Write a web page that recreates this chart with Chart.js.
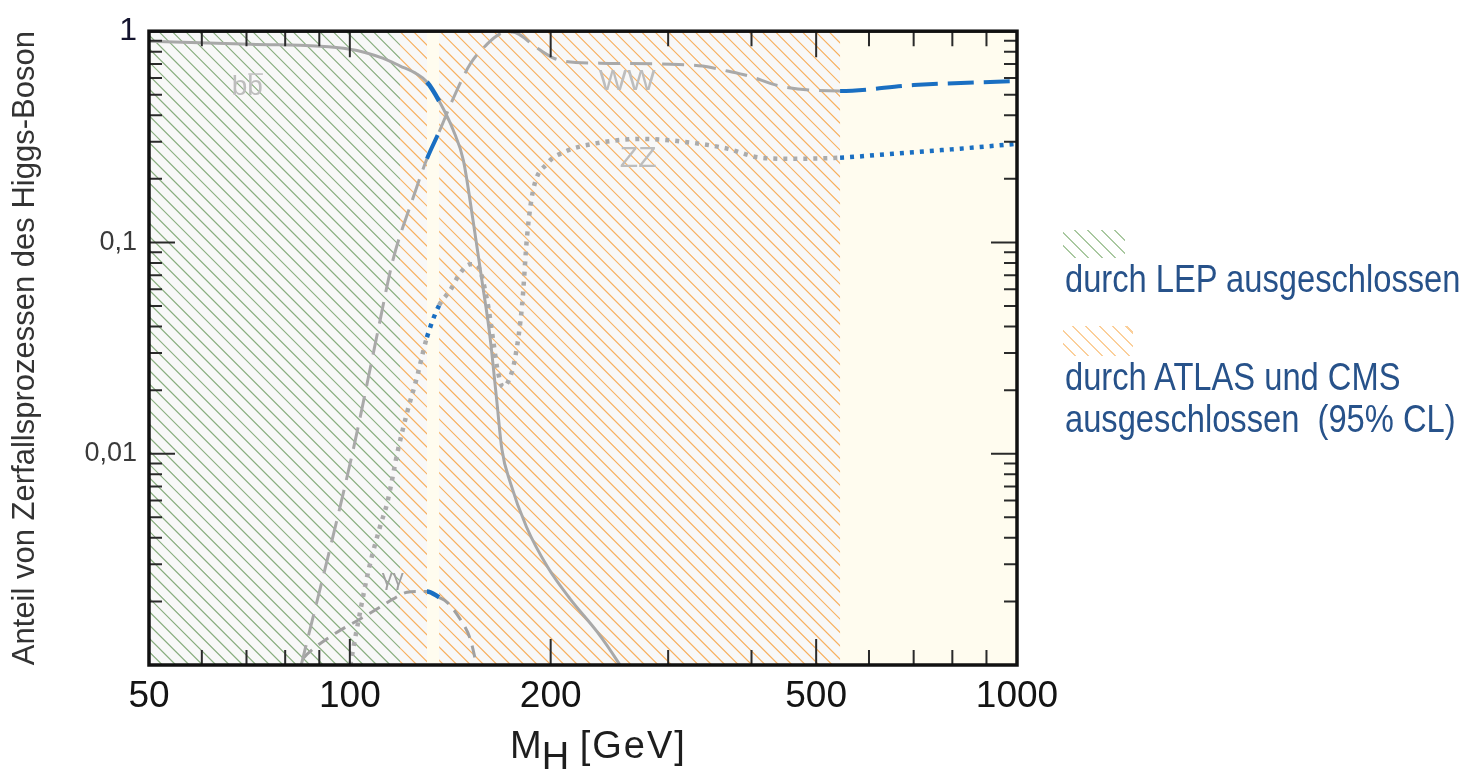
<!DOCTYPE html>
<html lang="de">
<head>
<meta charset="utf-8">
<title>Zerfallskanäle des Higgs-Bosons</title>
<script src="https://cdn.jsdelivr.net/npm/chart.js@4"></script>
<style>
  body { margin: 0; background: #fff; }
  #wrap { position: relative; width: 1478px; height: 771px; overflow: hidden; }
  #higgsChart { position: absolute; left: 0; top: 0; }
  .axis-title {
    position: absolute; left: 510px; top: 724px; line-height: 40px;
    font: 38px "Liberation Sans", Arial, sans-serif; color: #1e1e1e; white-space: nowrap;
  }
  .axis-title sub { font-size: 100%; vertical-align: -11px; line-height: 0; }
  .axis-title .unit { letter-spacing: 2px; }
  .legend-text {
    position: absolute; left: 1065px; white-space: pre;
    font-family: "Liberation Sans", Arial, sans-serif;
    font-size: 38px; line-height: 42px; color: #27528a;
    transform: scaleX(0.86); transform-origin: left top;
  }
  .swatch { position: absolute; left: 1063px; }
  .swatch.lep {
    top: 230px; width: 62px; height: 28px;
    background: repeating-linear-gradient(45deg, transparent 0 8px, #a9c8a0 8px 9.5px);
  }
  .swatch.lhc {
    top: 326px; width: 70px; height: 30px;
    background: repeating-linear-gradient(45deg, transparent 0 8px, #fbcf9a 8px 9.5px);
  }
</style>
</head>
<body>
<div id="wrap">
  <canvas id="higgsChart" width="1478" height="771"></canvas>
  <div class="axis-title">M<sub>H</sub> <span class="unit">[GeV]</span></div>
  <div class="swatch lep"></div>
  <div class="legend-text" style="top:258px">durch LEP ausgeschlossen</div>
  <div class="swatch lhc"></div>
  <div class="legend-text" style="top:356px">durch ATLAS und CMS
ausgeschlossen  (95% CL)</div>
</div>
<script>
// === DATA (Higgs mass in GeV, branching fraction) ===
const bbMass = [50, 71, 100, 112, 119, 126, 130.5, 136.1, 143, 148, 153, 158, 162, 166, 169, 174, 184, 198, 214, 235, 252, 265];
const bbFrac = [0.897, 0.868, 0.822, 0.746, 0.684, 0.627, 0.575, 0.467, 0.338, 0.244, 0.127, 0.064, 0.037, 0.018, 0.0105, 0.0073, 0.0045, 0.0029, 0.00205, 0.00143, 0.00104, 0.0008];

const wwMass = [80, 85, 101, 110, 116, 124, 130.5, 136.1, 143, 151.5, 160.6, 167.7, 175, 191, 202, 209, 237, 292, 338, 368, 396, 441, 543, 700, 1000];
const wwFrac = [0.0005, 0.00107, 0.0102, 0.0372, 0.0822, 0.158, 0.249, 0.334, 0.483, 0.699, 0.868, 0.968, 0.99, 0.831, 0.746, 0.722, 0.706, 0.699, 0.684, 0.648, 0.614, 0.55, 0.521, 0.556, 0.581];

const zzMass = [99, 100.7, 103.6, 106.5, 111, 113.8, 118.1, 121.8, 126.1, 130.5, 136.1, 141.4, 146.3, 151.5, 155.1, 160.6, 164, 166.2, 169.7, 173.9, 176.9, 181.2, 184.4, 188.2, 197.6, 210.2, 231.6, 275, 327, 368, 412, 462, 543, 652, 822, 1000];
const zzFrac = [0.0008, 0.0011, 0.00178, 0.00275, 0.00453, 0.00587, 0.01045, 0.0156, 0.0231, 0.0356, 0.0504, 0.0594, 0.0714, 0.0788, 0.078, 0.0533, 0.0345, 0.0257, 0.0207, 0.0231, 0.0284, 0.0504, 0.108, 0.176, 0.236, 0.269, 0.293, 0.309, 0.296, 0.278, 0.252, 0.249, 0.252, 0.263, 0.278, 0.293];

const gamMass = [82, 85, 88.1, 95.7, 103.6, 111, 116, 121.8, 127.4, 130.5, 136.1, 139.9, 146.3, 151.5, 154.1, 157];
const gamFrac = [0.0009, 0.00107, 0.00119, 0.00143, 0.00165, 0.00188, 0.00205, 0.00221, 0.00223, 0.00223, 0.00209, 0.00198, 0.00165, 0.00133, 0.00107, 0.0008];

// excluded / allowed mass ranges (GeV)
const lepExcluded = [50, 118.9];
const lhcExcluded = [[118.9, 130.5], [136.1, 543]];
const allowedWindow = [130.5, 136.1];
const highMass = [543, 1000];

// axis ticks
const xTickValues = [50, 100, 200, 500, 1000];
const xMinorTicks = [60, 70, 80, 90, 300, 400, 600, 700, 800, 900];
const yTickValues = [0.001, 0.01, 0.1, 1];
const yTickText = ['', '0,01', '0,1', '1'];
const yMinorTicks = [0.002, 0.003, 0.004, 0.005, 0.006, 0.007, 0.008, 0.009,
                     0.02, 0.03, 0.04, 0.05, 0.06, 0.07, 0.08, 0.09,
                     0.2, 0.3, 0.4, 0.5, 0.6, 0.7, 0.8, 0.9];

// curve labels (anchored in data space)
const curveLabelText = ['bb', 'WW', 'ZZ', 'γγ'];
const curveLabelMass = [70.2, 260.4, 270.5, 116];
const curveLabelFrac = [0.544, 0.575, 0.249, 0.00255];

const BLUE = '#1a6fc2';
const FONT = '"Liberation Sans", Arial, sans-serif';

function toPoints(xs, ys) {
    return xs.map((m, i) => ({ x: m, y: ys[i] }));
}

function isBlue(c) {
    const a = c.p0.parsed.x, b = c.p1.parsed.x;
    return (a >= allowedWindow[0] - 0.01 && b <= allowedWindow[1] + 0.01) || a >= highMass[0] - 0.01;
}

function channel(label, xs, ys, style) {
    return {
        label: label,
        data: toPoints(xs, ys),
        borderColor: style.gray,
        borderWidth: style.width,
        borderDash: style.dash,
        pointRadius: 0,
        cubicInterpolationMode: 'monotone',
        fill: false,
        segment: {
            borderColor: c => isBlue(c) ? BLUE : style.gray,
            borderDash: c => isBlue(c) ? style.blueDash : style.dash,
            borderWidth: c => isBlue(c) ? style.blueWidth : style.width
        }
    };
}

// === HATCHING ===
function hatch(ctx, a, x0, x1, color) {
    const step = 13.4, h = a.height;
    ctx.save();
    ctx.beginPath();
    ctx.rect(x0, a.top, x1 - x0, h);
    ctx.clip();
    ctx.strokeStyle = color;
    ctx.lineWidth = 1.2;
    ctx.beginPath();
    for (let k = a.left - h; k < a.right; k += step) {
        if (k + h < x0 || k > x1) continue;
        ctx.moveTo(k, a.top);
        ctx.lineTo(k + h, a.bottom);
    }
    ctx.stroke();
    ctx.restore();
}

const backdrop = {
    id: 'backdrop',
    beforeDatasetsDraw(chart) {
        const { ctx, chartArea: a, scales: { x, y } } = chart;
        const px = v => x.getPixelForValue(v);
        ctx.save();
        ctx.fillStyle = '#f8f8f8';
        ctx.fillRect(a.left, a.top, a.width, a.height);
        ctx.fillStyle = '#fffcef';
        ctx.fillRect(px(allowedWindow[0]), a.top, px(allowedWindow[1]) - px(allowedWindow[0]), a.height);
        ctx.fillRect(px(highMass[0]), a.top, px(highMass[1]) - px(highMass[0]), a.height);
        hatch(ctx, a, px(lepExcluded[0]), px(lepExcluded[1]), '#88ad7e');
        lhcExcluded.forEach(r => hatch(ctx, a, px(r[0]), px(r[1]), '#f7b060'));

        // channel labels
        ctx.textAlign = 'center';
        ctx.textBaseline = 'middle';
        curveLabelText.forEach((t, i) => {
            const lx = px(curveLabelMass[i]);
            const ly = y.getPixelForValue(curveLabelFrac[i]);
            const size = t === 'bb' ? 28 : (t === 'γγ' ? 22 : 30);
            ctx.font = size + 'px ' + FONT;
            ctx.fillStyle = t === 'γγ' ? '#a0a0a0' : '#bdbdbd';
            ctx.fillText(t, lx, ly);
            if (t === 'bb') {
                const w = ctx.measureText('b').width;
                ctx.strokeStyle = '#bdbdbd';
                ctx.lineWidth = 1.5;
                ctx.beginPath();
                ctx.moveTo(lx + 1, ly - 13);
                ctx.lineTo(lx + w, ly - 13);
                ctx.stroke();
            }
        });
        ctx.restore();
    },
    afterDatasetsDraw(chart) {
        const { ctx, chartArea: a, scales: { x, y } } = chart;
        ctx.save();
        ctx.strokeStyle = '#2a2a2a';
        ctx.lineWidth = 2;
        ctx.beginPath();
        const xt = (v, len) => {
            const p = x.getPixelForValue(v);
            ctx.moveTo(p, a.bottom); ctx.lineTo(p, a.bottom - len);
            ctx.moveTo(p, a.top); ctx.lineTo(p, a.top + len);
        };
        const yt = (v, len) => {
            const p = y.getPixelForValue(v);
            ctx.moveTo(a.left, p); ctx.lineTo(a.left + len, p);
            ctx.moveTo(a.right, p); ctx.lineTo(a.right - len, p);
        };
        xMinorTicks.forEach(v => xt(v, 15));
        xTickValues.forEach(v => xt(v, 26));
        yMinorTicks.forEach(v => yt(v, 13));
        yTickValues.forEach(v => yt(v, 26));
        ctx.stroke();

        ctx.strokeStyle = '#111';
        ctx.lineWidth = 3.5;
        ctx.strokeRect(a.left, a.top, a.width, a.height);
        ctx.restore();
    }
};

// === CHART ===
new Chart(document.getElementById('higgsChart'), {
    type: 'line',
    data: {
        datasets: [
            channel('bb', bbMass, bbFrac, { gray: '#a8a8a8', width: 3, dash: [], blueDash: [], blueWidth: 4.5 }),
            channel('WW', wwMass, wwFrac, { gray: '#a9a9a9', width: 3, dash: [22, 10], blueDash: [26, 10], blueWidth: 4 }),
            channel('ZZ', zzMass, zzFrac, { gray: '#ababab', width: 4.5, dash: [4, 6], blueDash: [4, 6], blueWidth: 4.5 }),
            channel('γγ', gamMass, gamFrac, { gray: '#a0a0a0', width: 3, dash: [12, 8], blueDash: [], blueWidth: 4.5 })
        ]
    },
    options: {
        responsive: false,
        animation: false,
        devicePixelRatio: 1,
        layout: { padding: { left: 0, top: 30, right: 461, bottom: 0 } },
        plugins: {
            legend: { display: false },
            tooltip: { enabled: false }
        },
        scales: {
            x: {
                type: 'logarithmic',
                min: 50,
                max: 1000,
                grid: { display: false, drawTicks: false },
                border: { display: false },
                afterBuildTicks: scale => { scale.ticks = xTickValues.map(v => ({ value: v })); },
                afterFit: scale => { scale.height = 106; },
                ticks: {
                    autoSkip: false,
                    maxRotation: 0,
                    minRotation: 0,
                    padding: 10,
                    color: '#141414',
                    font: { size: 37, family: FONT },
                    callback: v => String(v)
                }
            },
            y: {
                type: 'logarithmic',
                min: 0.001,
                max: 1,
                grid: { display: false, drawTicks: false },
                border: { display: false },
                afterBuildTicks: scale => { scale.ticks = yTickValues.map(v => ({ value: v })); },
                afterFit: scale => { scale.width = 149; },
                ticks: {
                    autoSkip: false,
                    padding: 12,
                    color: c => c.tick && c.tick.value === 1 ? '#14142e' : '#3a3a3a',
                    font: c => ({ size: c.tick && c.tick.value === 1 ? 32 : 27, family: FONT }),
                    callback: v => {
                        const i = yTickValues.indexOf(v);
                        return i >= 0 ? yTickText[i] : '';
                    }
                },
                title: {
                    display: true,
                    text: 'Anteil von Zerfallsprozessen des Higgs-Boson',
                    color: '#333',
                    font: { size: 31, family: FONT },
                    padding: { top: 7, bottom: 0 }
                }
            }
        }
    },
    plugins: [backdrop]
});
</script>
</body>
</html>
